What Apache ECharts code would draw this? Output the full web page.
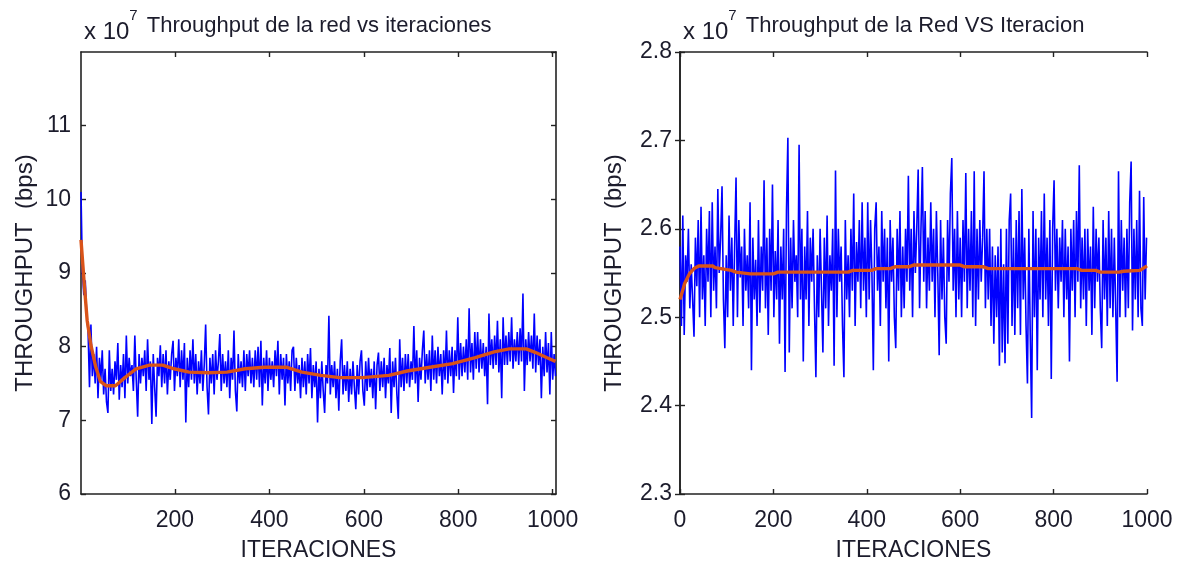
<!DOCTYPE html>
<html>
<head>
<meta charset="utf-8">
<script src="https://cdn.jsdelivr.net/npm/echarts@6/dist/echarts.min.js"></script>
<style>
html,body{margin:0;padding:0;background:#fff;}
#c{width:1177px;height:567px;}
</style>
</head>
<body>
<div id="c"></div>
<script>
// ---------- DATA (values in units of 10^7 bps) ----------
// Left panel: raw throughput, one sample every 3 iterations starting at iteration 1
const leftStart = 1;
const leftStep = 3;
const leftBlue = [
10.1, 9.0, 8.7, 8.9, 8.45, 8.2, 7.45, 8.3, 7.6, 7.9,
7.5, 8.0, 7.3, 7.85, 7.55, 7.95, 7.35, 7.7, 7.25, 7.1,
7.95, 7.4, 7.7, 7.35, 7.8, 7.55, 8.05, 7.28, 7.75, 7.45,
7.9, 7.3, 8.15, 7.5, 7.85, 7.6, 7.75, 7.4, 8.15, 7.55,
7.05, 7.9, 7.5, 7.85, 7.6, 7.95, 7.4, 8.1, 7.55, 7.8,
6.95, 7.9, 7.45, 7.05, 7.85, 7.6, 8.02, 7.45, 7.9, 7.5,
7.95, 7.35, 7.8, 7.55, 7.9, 8.08, 7.4, 7.85, 7.6, 8.1,
7.45, 7.95, 7.55, 8.05, 6.97, 7.85, 7.45, 7.95, 7.55, 8.1,
7.5, 7.9, 7.35, 7.8, 7.5, 7.95, 7.4, 7.75, 8.3, 7.45,
7.08, 7.85, 7.5, 7.9, 7.35, 7.95, 7.55, 7.8, 8.17, 7.4,
7.9, 7.5, 7.8, 7.45, 7.95, 7.3, 7.85, 7.55, 8.22, 7.4,
7.12, 7.9, 7.5, 7.8, 7.45, 7.95, 7.4, 7.9, 7.6, 7.95,
7.5, 7.85, 7.45, 7.95, 7.55, 8.0, 7.45, 8.08, 7.2, 7.85,
7.5, 7.95, 7.4, 7.85, 7.55, 7.8, 7.45, 7.95, 7.6, 8.08,
7.35, 7.9, 7.55, 7.85, 7.2, 7.9, 7.5, 7.8, 7.4, 7.95,
8.0, 7.4, 7.85, 7.5, 7.75, 7.3, 7.85, 7.45, 7.8, 7.35,
7.9, 7.5, 7.98, 7.3, 7.75, 7.45, 7.8, 6.97, 7.7, 7.3,
7.8, 7.4, 7.1, 7.75, 7.5, 8.42, 7.35, 7.75, 7.45, 7.8,
7.3, 7.7, 7.13, 7.8, 8.1, 7.35, 7.75, 7.4, 7.8, 7.25,
7.7, 7.35, 7.8, 7.45, 7.15, 7.75, 7.35, 7.8, 7.95, 7.4,
7.2, 7.8, 7.4, 7.85, 7.45, 7.7, 7.3, 7.8, 7.15, 7.75,
7.92, 7.4, 7.8, 7.45, 7.85, 7.3, 7.75, 7.5, 7.98, 7.1,
7.8, 7.45, 7.85, 7.35, 7.02, 8.1, 7.45, 7.85, 7.4, 7.9,
7.5, 7.9, 7.45, 7.8, 7.55, 8.28, 7.5, 7.95, 7.25, 7.85,
7.55, 7.95, 8.22, 7.5, 7.9, 7.55, 7.95, 7.4, 8.15, 7.55,
7.95, 7.5, 8.0, 7.6, 7.9, 7.35, 7.95, 7.55, 8.22, 7.5,
7.95, 7.6, 8.0, 7.37, 7.95, 7.6, 8.4, 7.55, 8.05, 7.6,
8.0, 7.65, 8.1, 7.55, 8.52, 7.65, 8.05, 7.55, 8.2, 7.7,
8.2, 7.65, 8.1, 7.7, 8.05, 7.6, 8.0, 7.22, 8.45, 7.75,
8.1, 7.7, 8.15, 7.75, 8.35, 7.65, 8.1, 7.3, 8.4, 7.75,
8.15, 7.75, 8.2, 7.8, 8.4, 7.7, 8.1, 7.8, 8.2, 7.75,
8.25, 7.8, 8.72, 7.4, 8.1, 7.75, 8.2, 7.8, 8.15, 7.7,
8.45, 7.65, 8.15, 7.75, 8.1, 7.3, 8.0, 7.6, 8.2, 7.65,
8.05, 7.35, 8.2, 7.55, 7.9, 7.6
];
// Left panel: smoothed trend
const leftTrendX = [1, 8, 14, 22, 32, 42, 54, 74, 94, 118, 146, 174, 198, 230, 270, 310, 349, 389, 437, 469, 509, 549, 597, 653, 692, 740, 788, 836, 876, 908, 944, 964, 988, 1006];
const leftTrendY = [9.45, 8.84, 8.36, 8.02, 7.73, 7.53, 7.47, 7.47, 7.58, 7.70, 7.75, 7.75, 7.70, 7.655, 7.645, 7.655, 7.70, 7.72, 7.72, 7.655, 7.61, 7.58, 7.58, 7.61, 7.67, 7.72, 7.77, 7.85, 7.93, 7.97, 7.97, 7.92, 7.85, 7.80];

// Right panel: raw throughput, one sample every 3 iterations starting at iteration 0
const rightStart = 0;
const rightStep = 3;
const rightBlue = [
2.58, 2.49, 2.615, 2.48, 2.57, 2.54, 2.6, 2.51, 2.56, 2.52,
2.478, 2.59, 2.535, 2.61, 2.5, 2.625, 2.52, 2.57, 2.49, 2.6,
2.54, 2.62, 2.5, 2.63, 2.53, 2.58, 2.51, 2.645, 2.55, 2.59,
2.648, 2.52, 2.465, 2.57, 2.5, 2.615, 2.53, 2.59, 2.49, 2.58,
2.658, 2.5, 2.61, 2.545, 2.58, 2.49, 2.6, 2.53, 2.57, 2.51,
2.63, 2.44, 2.59, 2.52, 2.565, 2.49, 2.61, 2.505, 2.58, 2.53,
2.655, 2.51, 2.59, 2.48, 2.6, 2.53, 2.65, 2.5, 2.575, 2.52,
2.61, 2.47, 2.58, 2.52, 2.6, 2.438, 2.62, 2.703, 2.46, 2.59,
2.51, 2.61, 2.54, 2.57, 2.5, 2.695, 2.52, 2.6, 2.45, 2.58,
2.52, 2.62, 2.49, 2.59, 2.54, 2.6, 2.51, 2.432, 2.57, 2.5,
2.6, 2.53, 2.46, 2.59, 2.51, 2.615, 2.49, 2.57, 2.53, 2.6,
2.445, 2.666, 2.5, 2.6, 2.54, 2.58, 2.49, 2.432, 2.61, 2.52,
2.57, 2.5, 2.6, 2.53, 2.64, 2.49, 2.585, 2.54, 2.61, 2.51,
2.63, 2.53, 2.59, 2.5, 2.63, 2.52, 2.61, 2.55, 2.44, 2.6,
2.63, 2.53, 2.58, 2.49, 2.62, 2.54, 2.6, 2.51, 2.59, 2.45,
2.61, 2.54, 2.59, 2.5, 2.465, 2.6, 2.53, 2.62, 2.5, 2.58,
2.51, 2.6, 2.54, 2.66, 2.53, 2.6, 2.5, 2.62, 2.55, 2.6,
2.667, 2.51, 2.6, 2.67, 2.54, 2.62, 2.51, 2.59, 2.53, 2.63,
2.54, 2.6, 2.5, 2.62, 2.55, 2.457, 2.61, 2.52, 2.59, 2.5,
2.47, 2.61, 2.54, 2.64, 2.68, 2.53, 2.6, 2.5, 2.62, 2.52,
2.59, 2.5, 2.61, 2.54, 2.663, 2.51, 2.6, 2.53, 2.62, 2.5,
2.665, 2.49, 2.6, 2.52, 2.61, 2.54, 2.59, 2.665, 2.51, 2.6,
2.52, 2.6, 2.49, 2.58, 2.47, 2.57, 2.5, 2.58, 2.445, 2.6,
2.46, 2.56, 2.448, 2.6, 2.47, 2.61, 2.64, 2.49, 2.59, 2.48,
2.61, 2.51, 2.62, 2.48, 2.645, 2.52, 2.59, 2.49, 2.425, 2.6,
2.48, 2.386, 2.62, 2.5, 2.6, 2.44, 2.59, 2.52, 2.62, 2.5,
2.64, 2.52, 2.59, 2.49, 2.61, 2.43, 2.6, 2.655, 2.53, 2.6,
2.51, 2.59, 2.54, 2.61, 2.5, 2.6, 2.52, 2.58, 2.45, 2.6,
2.53, 2.61, 2.5, 2.62, 2.54, 2.672, 2.51, 2.59, 2.52, 2.6,
2.49, 2.6, 2.53, 2.58, 2.48, 2.625, 2.51, 2.6, 2.54, 2.59,
2.51, 2.465, 2.61, 2.52, 2.59, 2.49, 2.62, 2.51, 2.6, 2.5,
2.59, 2.51, 2.427, 2.665, 2.5, 2.61, 2.53, 2.59, 2.5, 2.6,
2.51, 2.63, 2.676, 2.485, 2.6, 2.52, 2.61, 2.5, 2.643, 2.51,
2.49, 2.636, 2.52, 2.59
];
// Right panel: smoothed trend
const rightTrendX = [0, 10, 20, 30, 40, 70, 75, 110, 120, 150, 200, 210, 360, 370, 410, 420, 450, 460, 490, 500, 600, 610, 650, 660, 850, 860, 890, 900, 940, 950, 985, 1000];
const rightTrendY = [2.52, 2.538, 2.549, 2.555, 2.558, 2.558, 2.556, 2.553, 2.551, 2.549, 2.549, 2.551, 2.551, 2.553, 2.553, 2.555, 2.555, 2.557, 2.557, 2.559, 2.559, 2.557, 2.557, 2.555, 2.555, 2.553, 2.553, 2.551, 2.551, 2.552, 2.553, 2.558];

const leftXTicks = [200, 400, 600, 800, 1000];

// ---------- CHART ----------
const FONT = '"Liberation Sans",Arial,sans-serif';
const TXT = '#1c1c2c';
const AX = '#222222';

function pairs(xs, ys) { return xs.map((x, i) => [x, ys[i]]); }
function stepped(start, step, ys) { return ys.map((y, i) => [start + i * step, y]); }

const axisLineStyle = { show: true, lineStyle: { color: AX, width: 1.6 } };
const tickIn = { show: true, inside: true, length: 5, lineStyle: { color: AX, width: 1.4 } };
const lblStyle = { color: TXT, fontFamily: FONT, fontSize: 23 };

function xMain(grid, min, max, extra) {
  return Object.assign({
    type: 'value', gridIndex: grid, min: min, max: max, position: 'bottom',
    axisLine: axisLineStyle, splitLine: { show: false },
    axisLabel: Object.assign({ margin: 15, formatter: v => String(v) }, lblStyle),
    name: 'ITERACIONES', nameLocation: 'middle', nameGap: 45,
    nameTextStyle: { color: TXT, fontFamily: FONT, fontSize: 23 }
  }, extra);
}
function xTop(grid, min, max, extra) {
  return Object.assign({
    type: 'value', gridIndex: grid, min: min, max: max, position: 'top',
    axisLine: axisLineStyle, splitLine: { show: false },
    axisLabel: { show: false }
  }, extra);
}
function yMain(grid, min, max, interval, extra) {
  return Object.assign({
    type: 'value', gridIndex: grid, min: min, max: max, interval: interval, position: 'left',
    axisLine: axisLineStyle, axisTick: tickIn, splitLine: { show: false },
    name: 'THROUGHPUT  (bps)', nameLocation: 'middle', nameGap: 44, nameRotate: 90,
    nameTextStyle: { color: TXT, fontFamily: FONT, fontSize: 24 }
  }, extra);
}
function yRight(grid, min, max, interval) {
  return {
    type: 'value', gridIndex: grid, min: min, max: max, interval: interval, position: 'right',
    axisLine: axisLineStyle, axisTick: tickIn, splitLine: { show: false },
    axisLabel: { show: false }
  };
}
function titleRich() {
  return {
    fontWeight: 'normal',
    rich: {
      a: { fontFamily: FONT, fontSize: 24, color: TXT, verticalAlign: 'bottom', lineHeight: 36 },
      s: { fontFamily: FONT, fontSize: 15, color: TXT, verticalAlign: 'top', lineHeight: 36 },
      g: { fontSize: 10, width: 9, lineHeight: 36 },
      t: { fontFamily: FONT, fontSize: 22, color: TXT, verticalAlign: 'middle', lineHeight: 32 }
    }
  };
}

const chart = echarts.init(document.getElementById('c'), null, { renderer: 'canvas' });
chart.setOption({
  backgroundColor: '#ffffff',
  animation: false,
  title: [
    { left: 79, top: 3, text: '{a|x 10}{s|7}{g| }{t|Throughput de la red vs iteraciones}', textStyle: titleRich() },
    { left: 678, top: 3, text: '{a|x 10}{s|7}{g| }{t|Throughput de la Red VS Iteracion}', textStyle: titleRich() }
  ],
  grid: [
    { left: 81, top: 52, width: 475, height: 445, containLabel: false },
    { left: 680, top: 52, width: 467, height: 445, containLabel: false }
  ],
  xAxis: [
    xMain(0, 1, 1007, {
      axisTick: Object.assign({}, tickIn, { customValues: leftXTicks }),
      axisLabel: Object.assign({ margin: 15, customValues: leftXTicks, formatter: v => String(v) }, lblStyle)
    }),
    xTop(0, 1, 1007, { axisTick: Object.assign({}, tickIn, { customValues: leftXTicks }) }),
    xMain(1, 0, 1000, { interval: 200, axisTick: tickIn }),
    xTop(1, 0, 1000, { interval: 200, axisTick: tickIn })
  ],
  yAxis: [
    yMain(0, 6, 12, 1, {
      axisLabel: Object.assign({ margin: 10, showMaxLabel: false }, lblStyle)
    }),
    yRight(0, 6, 12, 1),
    yMain(1, 2.3, 2.8, 0.1, {
      nameGap: 54,
      axisLabel: Object.assign({ margin: 8, formatter: v => v.toFixed(1) }, lblStyle)
    }),
    yRight(1, 2.3, 2.8, 0.1)
  ],
  series: [
    { type: 'line', xAxisIndex: 0, yAxisIndex: 0, data: stepped(leftStart, leftStep, leftBlue),
      showSymbol: false, symbol: 'none', lineStyle: { color: '#0000ff', width: 1.6 }, z: 2 },
    { type: 'line', xAxisIndex: 0, yAxisIndex: 0, data: pairs(leftTrendX, leftTrendY),
      showSymbol: false, symbol: 'none', lineStyle: { color: '#d95319', width: 3.4 }, z: 3 },
    { type: 'line', xAxisIndex: 2, yAxisIndex: 2, data: stepped(rightStart, rightStep, rightBlue),
      showSymbol: false, symbol: 'none', lineStyle: { color: '#0000ff', width: 1.6 }, z: 2 },
    { type: 'line', xAxisIndex: 2, yAxisIndex: 2, data: pairs(rightTrendX, rightTrendY),
      showSymbol: false, symbol: 'none', lineStyle: { color: '#d95319', width: 3.4 }, z: 3 }
  ]
});
</script>
</body>
</html>
